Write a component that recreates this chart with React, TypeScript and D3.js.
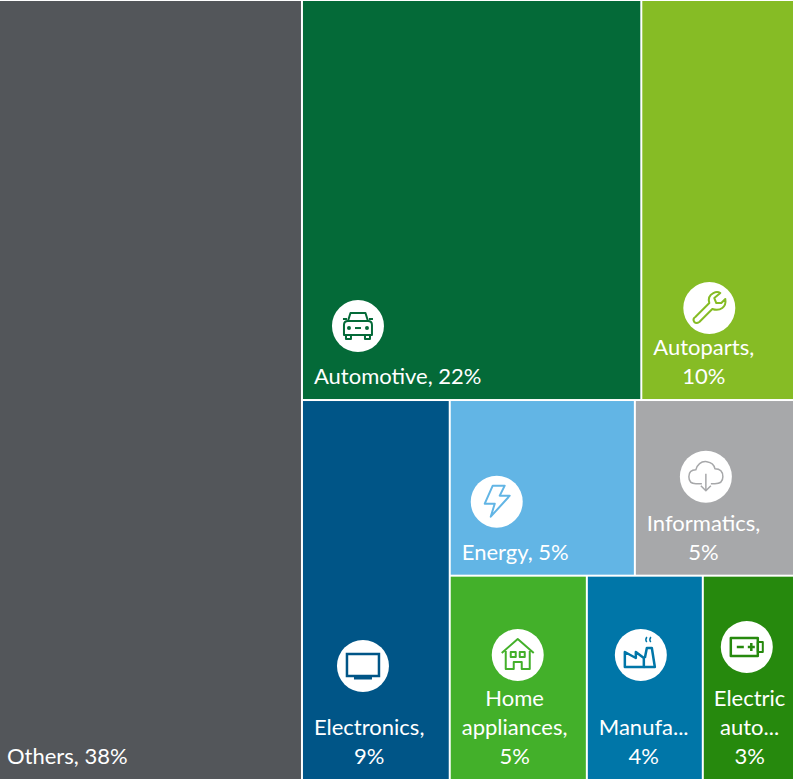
import * as d3 from "d3";
import React from "react";

const WIDTH = 795;
const HEIGHT = 779;
const FONT_SIZE = 22;
const FONT = "Lato, 'Open Sans', sans-serif";

// shares (the labels are rounded)
const others = 38.3;
const topNames = ["Automotive", "Autoparts"];
const topValues = [22.0, 9.9];
const electronics = 9.1;
const midNames = ["Energy", "Informatics"];
const midValues = [5.27, 4.53];
const lowNames = ["Home appliances", "Manufacturing", "Electric automobile"];
const lowValues = [4.54, 3.84, 3.02];

const colors: Record<string, string> = {
  Others: "#53565A",
  Automotive: "#046A38",
  Autoparts: "#86BC25",
  Electronics: "#005587",
  Energy: "#62B5E5",
  Informatics: "#A7A8AA",
  "Home appliances": "#43B02A",
  Manufacturing: "#0076A8",
  "Electric automobile": "#26890D",
};

const labels: Record<string, string[]> = {
  Others: ["Others, 38%"],
  Automotive: ["Automotive, 22%"],
  Autoparts: ["Autoparts,", "10%"],
  Electronics: ["Electronics,", "9%"],
  Energy: ["Energy, 5%"],
  Informatics: ["Informatics,", "5%"],
  "Home appliances": ["Home", "appliances,", "5%"],
  Manufacturing: ["Manufa...", "4%"],
  "Electric automobile": ["Electric", "auto...", "3%"],
};

// icon centre relative to the cell's bottom-left corner
const iconOffset: Record<string, [number, number]> = {
  Automotive: [55, -73],
  Autoparts: [67, -91],
  Electronics: [60, -113],
  Energy: [46, -73],
  Informatics: [70, -98],
  "Home appliances": [67, -124],
  Manufacturing: [53, -124],
  "Electric automobile": [43, -132],
};

// left padding of the label block, 11 unless listed
const labelPad: Record<string, number> = { Others: 7, "Electric automobile": 10 };

const ICON_R = 26;

// lines are centred inside a block that starts at the cell's left padding
const ctx = document.createElement("canvas").getContext("2d")!;
function textWidth(t: string) {
  ctx.font = `${FONT_SIZE}px ${FONT}`;
  return ctx.measureText(t).width;
}

function Icon({ name, color }: { name: string; color: string }) {
  const s = { fill: "none", stroke: color, strokeWidth: 2, strokeLinejoin: "round" as const };
  if (name === "Automotive")
    return (
      <g {...s}>
        <path d="M-10,-5 L-7.5,-13 H7.5 L10,-5" />
        <path d="M-15,-7 H-11 M11,-7 H15" />
        <path d="M-14,-1 Q-14,-5 -10,-5 H10 Q14,-5 14,-1 V9 H-14 Z" />
        <path d="M-12,9 V13 H-7 V9 M7,9 V13 H12 V9" />
        <path d="M-3,2 H3" />
        <circle cx={-9} cy={2} r={2} fill={color} stroke="none" />
        <circle cx={9} cy={2} r={2} fill={color} stroke="none" />
      </g>
    );
  if (name === "Autoparts")
    return (
      <g {...s}>
        <path d="M-14,9 L0,-5 Q-2,-12 4,-15 Q8,-17 11,-15 L5,-10 L7,-5 L12,-5 L16,-9 Q17,-3 13,0 Q9,3 3,1 L-10,14 Q-13,16 -15,14 Q-17,11 -14,9 Z" />
      </g>
    );
  if (name === "Electronics")
    return (
      <g>
        <rect x={-16} y={-12} width={32} height={22} fill="none" stroke={color} strokeWidth={2.5} />
        <rect x={-9} y={11} width={18} height={2.5} fill={color} />
      </g>
    );
  if (name === "Energy")
    return (
      <g {...s}>
        <path d="M-4,-16 H8 L3,-6 H13 L-6,15 L-2,2 H-12 Z" />
      </g>
    );
  if (name === "Informatics")
    return (
      <g fill="none" stroke={color} strokeWidth={1.5} strokeLinejoin="round">
        <path d="M-4,7 H-10 Q-17,7 -17,0 Q-17,-7 -10,-7 Q-7,-16 1,-15 Q8,-14 9,-8 Q17,-8 17,0 Q17,7 9,7 H5" />
        <path d="M0,-3 V14 M-5,9 L0,14 L5,9" />
      </g>
    );
  if (name === "Home appliances")
    return (
      <g {...s}>
        <path d="M-16,-2 L0,-16 L16,-2 M-12,-4 V14 H-4 V7 H4 V14 H12 V-4" />
        <rect x={-7} y={-3} width={5} height={5} />
        <rect x={2} y={-3} width={5} height={5} />
      </g>
    );
  if (name === "Manufacturing")
    return (
      <g fill="none" stroke={color} strokeWidth={2.5} strokeLinejoin="round">
        <path d="M-16,12 V-3 L-5,3 V-3 L3,3 V12 Z" />
        <path d="M3,12 H14 L11,-7 H6 L4,3" />
        <path d="M6,-18 Q4,-15 6,-13 M10,-18 Q8,-15 10,-13" strokeWidth={1.5} />
      </g>
    );
  return (
    <g {...s} strokeWidth={2.5}>
      <rect x={-16} y={-9} width={27} height={18} />
      <rect x={11} y={-5} width={5} height={10} strokeWidth={2} />
      <path d="M-10,0 H-3 M1,0 H8 M4.5,-4 V4" />
    </g>
  );
}

export default function App() {
  const tree = {
    name: "root",
    children: [
      { name: "Others", value: others },
      {
        name: "right",
        children: [
          { name: "top", children: topNames.map((n, i) => ({ name: n, value: topValues[i] })) },
          {
            name: "bottom",
            children: [
              { name: "Electronics", value: electronics },
              {
                name: "rest",
                children: [
                  { name: "mid", children: midNames.map((n, i) => ({ name: n, value: midValues[i] })) },
                  { name: "low", children: lowNames.map((n, i) => ({ name: n, value: lowValues[i] })) },
                ],
              },
            ],
          },
        ],
      },
    ],
  };

  const root = d3.hierarchy<any>(tree).sum((d) => d.value || 0);
  d3.treemap<any>()
    .tile(d3.treemapSliceDice)
    .size([WIDTH - 2, HEIGHT])
    .paddingInner(2)
    .paddingTop((d) => (d.depth === 0 ? 1 : 0))(root);
  const cells = root.leaves() as d3.HierarchyRectangularNode<any>[];

  return (
    <svg
      width={WIDTH}
      height={HEIGHT}
      style={{ position: "absolute", left: 0, top: 0, background: "#fff" }}
      fontFamily={FONT}
      fontSize={FONT_SIZE}
    >
      {cells.map((c) => {
        const name = c.data.name;
        const lines = labels[name];
        const offset = iconOffset[name];
        const pad = labelPad[name] ?? 11;
        const blockWidth = d3.max(lines, textWidth) as number;
        return (
          <g key={name}>
            <rect x={c.x0} y={c.y0} width={c.x1 - c.x0} height={c.y1 - c.y0} fill={colors[name]} />
            {offset && (
              <g transform={`translate(${c.x0 + offset[0]},${c.y1 + offset[1]})`}>
                <circle r={ICON_R} fill="#fff" />
                <Icon name={name} color={colors[name]} />
              </g>
            )}
            {lines.map((t, i) => (
              <text
                key={t}
                x={c.x0 + pad + blockWidth / 2}
                y={c.y1 - 15 - (lines.length - 1 - i) * 29}
                textAnchor="middle"
                fill="#fff"
              >
                {t}
              </text>
            ))}
          </g>
        );
      })}
    </svg>
  );
}
